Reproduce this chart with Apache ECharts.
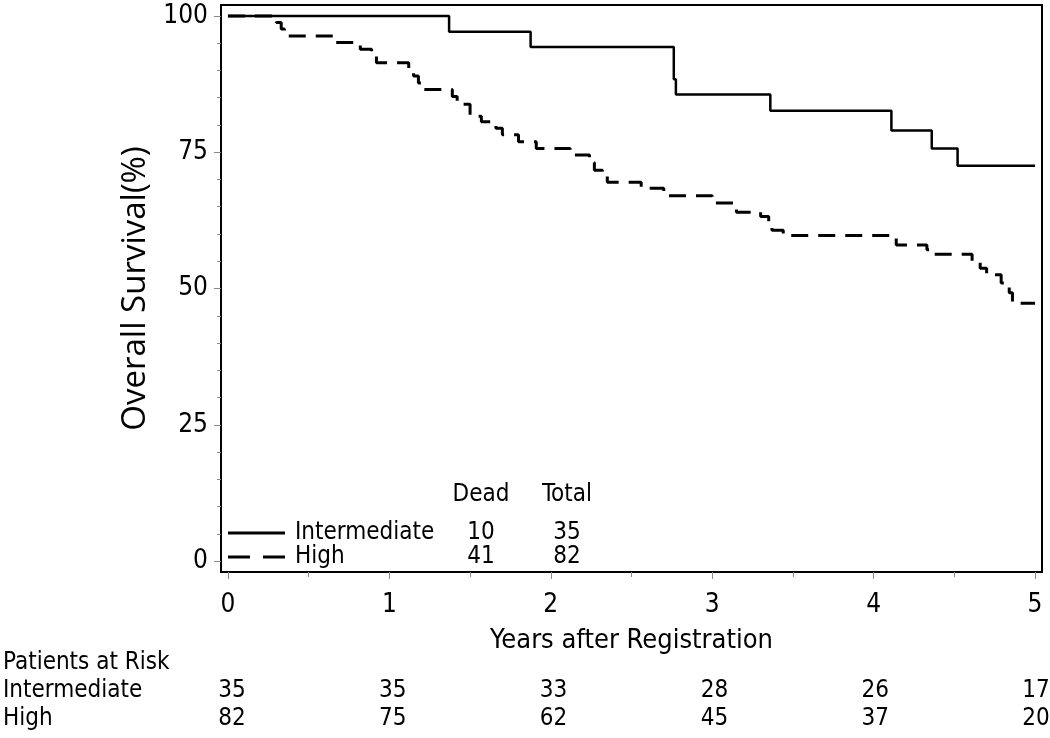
<!DOCTYPE html>
<html>
<head>
<meta charset="utf-8">
<script src="https://cdn.jsdelivr.net/npm/echarts@6/dist/echarts.min.js"></script>
<style>
html,body{margin:0;padding:0;background:#fff;}
#chart{width:1050px;height:738px;}
</style>
</head>
<body>
<div id="chart"></div>
<script>
// ---- data ----
const yearTicks = [0, 1, 2, 3, 4, 5];
const yearMinorTicks = [0.5, 1.5, 2.5, 3.5, 4.5];
const survivalTicks = [0, 25, 50, 75, 100];
const survivalMinorTicks = [5,10,15,20,30,35,40,45,55,60,65,70,80,85,90,95];

const intermediateTimes = [0, 1.37, 1.875, 2.762, 2.775, 3.36, 4.11, 4.36, 4.52, 5.0];
const intermediateSurv  = [100, 97.1, 94.3, 88.4, 85.6, 82.6, 79.0, 75.7, 72.5, 72.5];

const highTimes = [0, 0.30, 0.33, 0.35, 0.67, 0.82, 0.89, 0.92, 1.12, 1.15, 1.18, 1.21,
  1.39, 1.42, 1.50, 1.57, 1.66, 1.70, 1.80, 1.91, 2.12, 2.24, 2.27, 2.32, 2.35, 2.56,
  2.70, 3.00, 3.13, 3.15, 3.30, 3.35, 3.37, 3.44, 4.14, 4.33, 4.36, 4.61, 4.66, 4.70,
  4.79, 4.84, 4.86, 5.0];
const highSurv = [100, 98.8, 97.6, 96.3, 95.1, 93.9, 92.7, 91.4, 90.2, 89.0, 87.7, 86.5,
  85.2, 83.8, 81.6, 80.6, 79.4, 78.2, 76.9, 75.7, 74.5, 73.1, 71.7, 70.6, 69.5, 68.4,
  67.0, 65.7, 64.8, 64.0, 63.2, 62.0, 60.7, 59.7, 58.0, 57.1, 56.3, 54.9, 53.7, 52.5,
  51.0, 49.2, 47.3, 47.3];

const groupNames = ['Intermediate', 'High'];
const deadCounts = [10, 41];
const totalCounts = [35, 82];

const riskRows = ['Patients at Risk', 'Intermediate', 'High'];
const riskIntermediate = [35, 35, 33, 28, 26, 17];
const riskHigh = [82, 75, 62, 45, 37, 20];

// ---- chart ----
const FONT = '"DejaVu Sans Condensed", "DejaVu Sans", sans-serif';
const TITLE_FONT = '"Open Sans", "DejaVu Sans", sans-serif';
const chart = echarts.init(document.getElementById('chart'), null, {renderer: 'canvas'});

const zip = (a, b) => a.map((v, i) => [v, b[i]]);
const riskData = [];
yearTicks.forEach((t, i) => {
  riskData.push([t, 'Intermediate', riskIntermediate[i]]);
  riskData.push([t, 'High', riskHigh[i]]);
});

const xRange = {min: -0.043, max: 5.043};
const yRange = {min: -2, max: 102};
const tickColor = '#8a8a8a';
const solidIcon = 'path://M0,0H57V3H0Z';
const dashIcon = 'path://M0,0H22V3H0Z M35,0H57V3H35Z';

const option = {
  animation: false,
  backgroundColor: '#fff',
  textStyle: {fontFamily: FONT, color: '#000'},
  title: {
    left: 445, top: 483, padding: 0,
    text: '{d|Dead}{t|Total}',
    textStyle: {
      fontWeight: 'normal',
      rich: {
        d: {fontFamily: FONT, fontSize: 24, fontWeight: 'normal', color: '#000', width: 72, align: 'center'},
        t: {fontFamily: FONT, fontSize: 24, fontWeight: 'normal', color: '#000', width: 100, align: 'center'}
      }
    }
  },
  legend: {
    orient: 'vertical', left: 228, top: 521, padding: 0,
    itemWidth: 57, itemHeight: 3, itemGap: 0,
    data: [
      {name: groupNames[0], icon: solidIcon},
      {name: groupNames[1], icon: dashIcon}
    ],
    selectedMode: false,
    formatter: function (name) {
      const i = groupNames.indexOf(name);
      return '{n|' + name + '}{d|' + deadCounts[i] + '}{t|' + totalCounts[i] + '}';
    },
    textStyle: {
      lineHeight: 20,
      rich: {
        n: {fontFamily: FONT, fontSize: 24, lineHeight: 20, color: '#000', width: 150, padding: [0, 0, 0, 5]},
        d: {fontFamily: FONT, fontSize: 24, lineHeight: 20, color: '#000', width: 72, align: 'center'},
        t: {fontFamily: FONT, fontSize: 24, lineHeight: 20, color: '#000', width: 100, align: 'center'}
      }
    }
  },
  grid: [
    {left: 221, top: 5, width: 821, height: 567, show: true, borderColor: '#000', borderWidth: 2, backgroundColor: 'transparent'},
    {left: 221, top: 649, width: 821, height: 84, show: false}
  ],
  xAxis: [
    {
      type: 'value', gridIndex: 0, position: 'bottom', min: xRange.min, max: xRange.max,
      name: 'Years after Registration', nameLocation: 'middle', nameGap: 55,
      nameTextStyle: {fontFamily: FONT, fontSize: 27, color: '#000'},
      axisLine: {show: false, onZero: false},
      axisTick: {show: true, customValues: yearTicks, length: 7, lineStyle: {color: tickColor, width: 1}},
      axisLabel: {show: true, customValues: yearTicks, fontFamily: FONT, fontSize: 26, color: '#000', margin: 20},
      splitLine: {show: false}
    },
    {
      type: 'value', gridIndex: 0, position: 'bottom', min: xRange.min, max: xRange.max,
      axisLine: {show: false, onZero: false},
      axisTick: {show: true, customValues: yearMinorTicks, length: 5, lineStyle: {color: tickColor, width: 1}},
      axisLabel: {show: false},
      splitLine: {show: false}
    },
    {
      type: 'value', gridIndex: 1, min: xRange.min, max: xRange.max,
      show: false
    }
  ],
  yAxis: [
    {
      type: 'value', gridIndex: 0, position: 'left', min: yRange.min, max: yRange.max,
      name: 'Overall Survival(%)', nameLocation: 'middle', nameGap: 60,
      nameTextStyle: {fontFamily: TITLE_FONT, fontSize: 33, color: '#000'},
      axisLine: {show: false, onZero: false},
      axisTick: {show: true, customValues: survivalTicks, length: 7, lineStyle: {color: tickColor, width: 1}},
      axisLabel: {show: true, customValues: survivalTicks, fontFamily: FONT, fontSize: 26, color: '#000', margin: 13},
      splitLine: {show: false}
    },
    {
      type: 'value', gridIndex: 0, position: 'left', min: yRange.min, max: yRange.max,
      axisLine: {show: false, onZero: false},
      axisTick: {show: true, customValues: survivalMinorTicks, length: 4, lineStyle: {color: tickColor, width: 1}},
      axisLabel: {show: false},
      splitLine: {show: false}
    },
    {
      type: 'category', gridIndex: 1, data: riskRows, inverse: true,
      axisLine: {show: false}, axisTick: {show: false}, splitLine: {show: false},
      axisLabel: {show: true, interval: 0, align: 'left', margin: 221, fontFamily: FONT, fontSize: 24, color: '#000'}
    }
  ],
  series: [
    {
      name: 'Intermediate', type: 'line', step: 'end', xAxisIndex: 0, yAxisIndex: 0,
      data: zip(intermediateTimes, intermediateSurv),
      symbol: 'none', showSymbol: false,
      lineStyle: {color: '#000', width: 2.5, type: 'solid'},
      itemStyle: {color: '#000'}
    },
    {
      name: 'High', type: 'line', step: 'end', xAxisIndex: 0, yAxisIndex: 0,
      data: zip(highTimes, highSurv),
      symbol: 'none', showSymbol: false,
      lineStyle: {color: '#000', width: 3, type: [17, 10]},
      itemStyle: {color: '#000'}
    },
    {
      name: 'risk', type: 'scatter', xAxisIndex: 2, yAxisIndex: 2,
      data: riskData, symbolSize: 1, itemStyle: {color: '#fff', opacity: 0},
      silent: true,
      label: {
        show: true, position: 'inside', fontFamily: FONT, fontSize: 24, color: '#000',
        textBorderWidth: 0, opacity: 1,
        formatter: p => String(p.value[2]), offset: [1, 0]
      }
    }
  ]
};
chart.setOption(option);
</script>
</body>
</html>
